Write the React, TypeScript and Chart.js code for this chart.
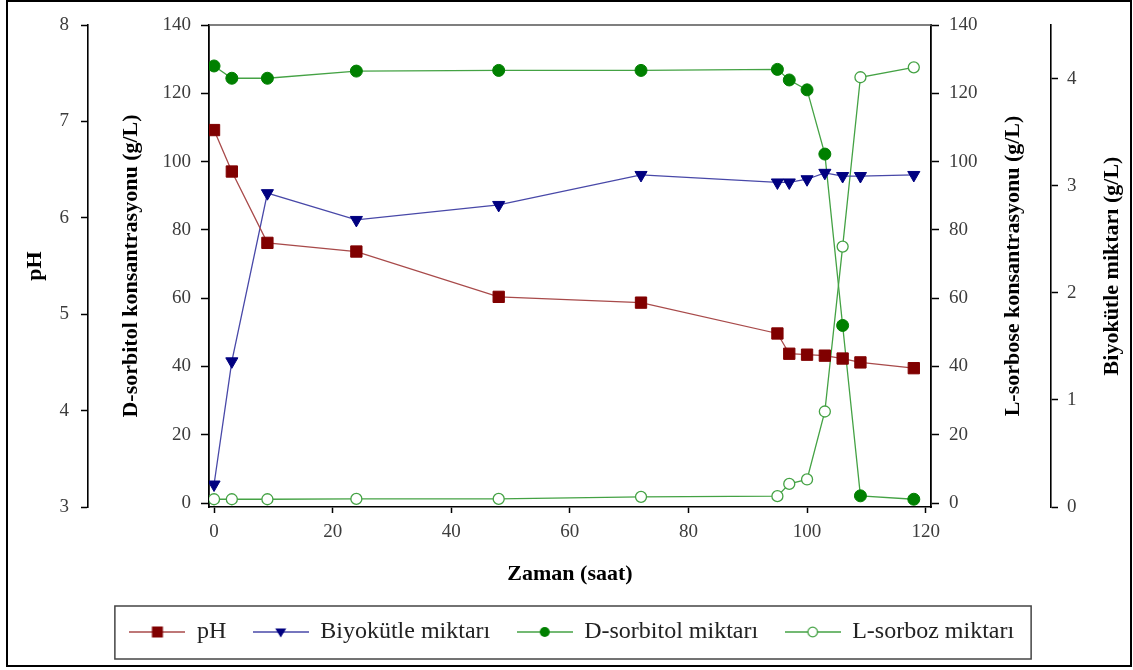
import React, { useEffect, useRef } from 'react';
import { Chart, registerables } from 'chart.js';

Chart.register(...registerables);

// ---- data ----
const timeHours = [0, 3, 9, 24, 48, 72, 95, 97, 100, 103, 106, 109, 118];
const phValues = [6.91, 6.48, 5.74, 5.65, 5.18, 5.12, 4.8, 4.59, 4.58, 4.57, 4.54, 4.5, 4.44];
const biomassValues = [0.21, 1.36, 2.93, 2.68, 2.82, 3.1, 3.03, 3.03, 3.06, 3.12, 3.09, 3.09, 3.1];
const sorbitolValues = [128.0, 124.4, 124.4, 126.5, 126.7, 126.7, 127.0, 123.9, 121.0, 102.2, 52.0, 2.1, 1.1];
const sorbozValues = [1.1, 1.1, 1.1, 1.2, 1.2, 1.8, 2.0, 5.6, 6.9, 26.8, 75.1, 124.7, 127.6];

const xTicks = [0, 20, 40, 60, 80, 100, 120];
const phTicks = [3, 4, 5, 6, 7, 8];
const concTicks = [0, 20, 40, 60, 80, 100, 120, 140];
const biomassTicks = [0, 1, 2, 3, 4];

const seriesLabels = ['pH', 'Biyokütle miktarı', 'D-sorbitol miktarı', 'L-sorboz miktarı'];
const xTitle = 'Zaman (saat)';
const phTitle = 'pH';
const sorbitolTitle = 'D-sorbitol konsantrasyonu (g/L)';
const sorbozTitle = 'L-sorbose konsantrasyonu (g/L)';
const biomassTitle = 'Biyokütle miktarı (g/L)';

const FONT = "'Liberation Serif', 'Times New Roman', serif";
const TICK_COLOR = '#3c3c3c';

const COLORS = {
  phLine: '#a84a4a',
  phMark: '#800000',
  bioLine: '#4848a8',
  bioMark: '#000080',
  greenLine: '#44a244',
  greenMark: '#008000',
};

function makeIcon(lineColor: string, draw: (ctx: CanvasRenderingContext2D, cx: number, cy: number) => void) {
  const c = document.createElement('canvas');
  c.width = 56;
  c.height = 16;
  const ctx = c.getContext('2d') as CanvasRenderingContext2D;
  ctx.strokeStyle = lineColor;
  ctx.lineWidth = 1.6;
  ctx.beginPath();
  ctx.moveTo(0, 8);
  ctx.lineTo(56, 8);
  ctx.stroke();
  draw(ctx, 28, 8);
  return c;
}

const idTicks = (vals: number[]) => (s: any) => {
  s.ticks = vals.map((v) => ({ value: v }));
};

export default function App() {
  const ref = useRef<HTMLCanvasElement | null>(null);

  useEffect(() => {
    if (!ref.current) return;

    const icons = [
      makeIcon(COLORS.phLine, (ctx, cx, cy) => {
        ctx.fillStyle = COLORS.phMark;
        ctx.fillRect(cx - 5.5, cy - 5.5, 11, 11);
      }),
      makeIcon(COLORS.bioLine, (ctx, cx, cy) => {
        ctx.fillStyle = COLORS.bioMark;
        ctx.beginPath();
        ctx.moveTo(cx - 5.5, cy - 3.5);
        ctx.lineTo(cx + 5.5, cy - 3.5);
        ctx.lineTo(cx, cy + 5.5);
        ctx.closePath();
        ctx.fill();
      }),
      makeIcon(COLORS.greenLine, (ctx, cx, cy) => {
        ctx.fillStyle = COLORS.greenMark;
        ctx.beginPath();
        ctx.arc(cx, cy, 5, 0, Math.PI * 2);
        ctx.fill();
      }),
      makeIcon(COLORS.greenLine, (ctx, cx, cy) => {
        ctx.fillStyle = '#fff';
        ctx.strokeStyle = COLORS.greenLine;
        ctx.lineWidth = 1.3;
        ctx.beginPath();
        ctx.arc(cx, cy, 4.8, 0, Math.PI * 2);
        ctx.fill();
        ctx.stroke();
      }),
    ];

    const framePlugin = {
      id: 'frame',
      afterDraw(chart: any) {
        const { ctx, chartArea } = chart;
        ctx.save();
        // top edge of the plot frame
        ctx.strokeStyle = '#555';
        ctx.lineWidth = 1.6;
        ctx.beginPath();
        ctx.moveTo(chartArea.left, chartArea.top);
        ctx.lineTo(chartArea.right, chartArea.top);
        ctx.stroke();

        // right-hand axis titles (read bottom to top)
        ctx.fillStyle = '#000';
        ctx.font = `bold 22px ${FONT}`;
        ctx.textAlign = 'center';
        ctx.textBaseline = 'middle';
        const yL = chart.scales.yL;
        const yB = chart.scales.yBio;
        const drawRot = (text: string, x: number, y: number) => {
          ctx.save();
          ctx.translate(x, y);
          ctx.rotate(-Math.PI / 2);
          ctx.fillText(text, 0, 0);
          ctx.restore();
        };
        drawRot(sorbozTitle, yL.right - 38, (yL.top + yL.bottom) / 2);
        drawRot(biomassTitle, yB.right - 18, (yB.top + yB.bottom) / 2);

        // legend frame
        const hb = chart.legend && chart.legend.legendHitBoxes;
        if (hb && hb.length) {
          const first = hb[0];
          const last = hb[hb.length - 1];
          ctx.strokeStyle = '#444';
          ctx.lineWidth = 1.5;
          const l = first.left - 15;
          const r = last.left + last.width + 17;
          const t = first.top - 14;
          const b = first.top + first.height + 15;
          ctx.strokeRect(l, t, r - l, b - t);
        }

        // outer border
        ctx.strokeStyle = '#000';
        ctx.lineWidth = 2;
        ctx.strokeRect(7, 1, 1124, 665);
        ctx.restore();
      },
    };

    const tickFont = { family: FONT, size: 19 };
    const titleFont = { family: FONT, size: 22, weight: 'bold' as const };

    const chart = new Chart(ref.current, {
      type: 'line',
      data: {
        datasets: [
          {
            label: seriesLabels[0],
            data: timeHours.map((t, i) => ({ x: t, y: phValues[i] })),
            yAxisID: 'yPH',
            borderColor: COLORS.phLine,
            borderWidth: 1.3,
            pointStyle: 'rect',
            pointRadius: 8,
            pointBackgroundColor: COLORS.phMark,
            pointBorderColor: COLORS.phMark,
            pointBorderWidth: 1,
          },
          {
            label: seriesLabels[1],
            data: timeHours.map((t, i) => ({ x: t, y: biomassValues[i] })),
            yAxisID: 'yBio',
            borderColor: COLORS.bioLine,
            borderWidth: 1.3,
            pointStyle: 'triangle',
            pointRotation: 180,
            pointRadius: 7,
            pointBackgroundColor: COLORS.bioMark,
            pointBorderColor: COLORS.bioMark,
            pointBorderWidth: 1,
          },
          {
            label: seriesLabels[2],
            data: timeHours.map((t, i) => ({ x: t, y: sorbitolValues[i] })),
            yAxisID: 'y',
            borderColor: COLORS.greenLine,
            borderWidth: 1.3,
            pointStyle: 'circle',
            pointRadius: 6,
            pointBackgroundColor: COLORS.greenMark,
            pointBorderColor: COLORS.greenMark,
            pointBorderWidth: 1,
          },
          {
            label: seriesLabels[3],
            data: timeHours.map((t, i) => ({ x: t, y: sorbozValues[i] })),
            yAxisID: 'yL',
            borderColor: COLORS.greenLine,
            borderWidth: 1.3,
            pointStyle: 'circle',
            pointRadius: 5.5,
            pointBackgroundColor: '#ffffff',
            pointBorderColor: COLORS.greenLine,
            pointBorderWidth: 1.3,
          },
        ],
      },
      options: {
        responsive: false,
        animation: false,
        devicePixelRatio: 1,
        layout: { padding: { left: 14, right: 3, top: 25, bottom: 16 } },
        plugins: {
          tooltip: { enabled: false },
          legend: {
            position: 'bottom',
            labels: {
              usePointStyle: true,
              pointStyleWidth: 55,
              padding: 27,
              color: '#222',
              font: { family: FONT, size: 24 },
              generateLabels: (ch: any) =>
                ch.data.datasets.map((ds: any, i: number) => ({
                  text: ds.label,
                  pointStyle: icons[i],
                  fillStyle: 'transparent',
                  strokeStyle: 'transparent',
                  lineWidth: 0,
                  hidden: false,
                  datasetIndex: i,
                  fontColor: '#222',
                })),
            },
          },
        },
        scales: {
          x: {
            type: 'linear',
            position: 'bottom',
            min: -0.85,
            max: 120.9,
            afterBuildTicks: idTicks(xTicks),
            afterFit: (s: any) => {
              s.height = 86;
            },
            grid: { display: true, drawOnChartArea: false, drawTicks: true, tickLength: 6, tickColor: '#000', tickWidth: 1.5 },
            border: { display: true, color: '#000', width: 1.6 },
            ticks: { font: tickFont, color: TICK_COLOR, padding: 8, maxRotation: 0, autoSkip: false },
            title: { display: true, text: xTitle, font: titleFont, color: '#000', padding: { top: 0, bottom: 5 } },
          },
          yPH: {
            type: 'linear',
            position: 'left',
            weight: 2,
            min: 3,
            max: 8,
            afterBuildTicks: idTicks(phTicks),
            afterFit: (s: any) => {
              s.width = 74;
            },
            grid: { display: true, drawOnChartArea: false, drawTicks: true, tickLength: 7, tickColor: '#000', tickWidth: 1.5 },
            border: { display: true, color: '#000', width: 1.6 },
            ticks: { font: tickFont, color: TICK_COLOR, padding: 12, autoSkip: false },
            title: { display: true, text: phTitle, font: titleFont, color: '#000', padding: { top: 8, bottom: 0 } },
          },
          y: {
            type: 'linear',
            position: 'left',
            weight: 1,
            min: -1.17,
            max: 140,
            afterBuildTicks: idTicks(concTicks),
            afterFit: (s: any) => {
              s.width = 121;
            },
            grid: { display: true, drawOnChartArea: false, drawTicks: true, tickLength: 8, tickColor: '#000', tickWidth: 1.5 },
            border: { display: true, color: '#000', width: 1.8 },
            ticks: { font: tickFont, color: TICK_COLOR, padding: 10, autoSkip: false },
            title: { display: true, text: sorbitolTitle, font: titleFont, color: '#000', padding: { top: 30, bottom: 0 } },
          },
          yL: {
            type: 'linear',
            position: 'right',
            weight: 1,
            min: -1.17,
            max: 140,
            afterBuildTicks: idTicks(concTicks),
            afterFit: (s: any) => {
              s.width = 120;
            },
            grid: { display: true, drawOnChartArea: false, drawTicks: true, tickLength: 8, tickColor: '#000', tickWidth: 1.5 },
            border: { display: true, color: '#000', width: 1.8 },
            ticks: { font: tickFont, color: TICK_COLOR, padding: 10, autoSkip: false },
            title: { display: false },
          },
          yBio: {
            type: 'linear',
            position: 'right',
            weight: 2,
            min: 0,
            max: 4.5,
            afterBuildTicks: idTicks(biomassTicks),
            afterFit: (s: any) => {
              s.width = 79;
            },
            grid: { display: true, drawOnChartArea: false, drawTicks: true, tickLength: 7, tickColor: '#000', tickWidth: 1.5 },
            border: { display: true, color: '#000', width: 1.6 },
            ticks: { font: tickFont, color: TICK_COLOR, padding: 9, autoSkip: false },
            title: { display: false },
          },
        },
      },
      plugins: [framePlugin],
    } as any);

    return () => chart.destroy();
  }, []);

  return (
    <div style={{ position: 'fixed', left: 0, top: 0, width: 1133, height: 670, background: '#fff' }}>
      <canvas ref={ref} width={1133} height={670} style={{ display: 'block', width: 1133, height: 670 }} />
    </div>
  );
}
